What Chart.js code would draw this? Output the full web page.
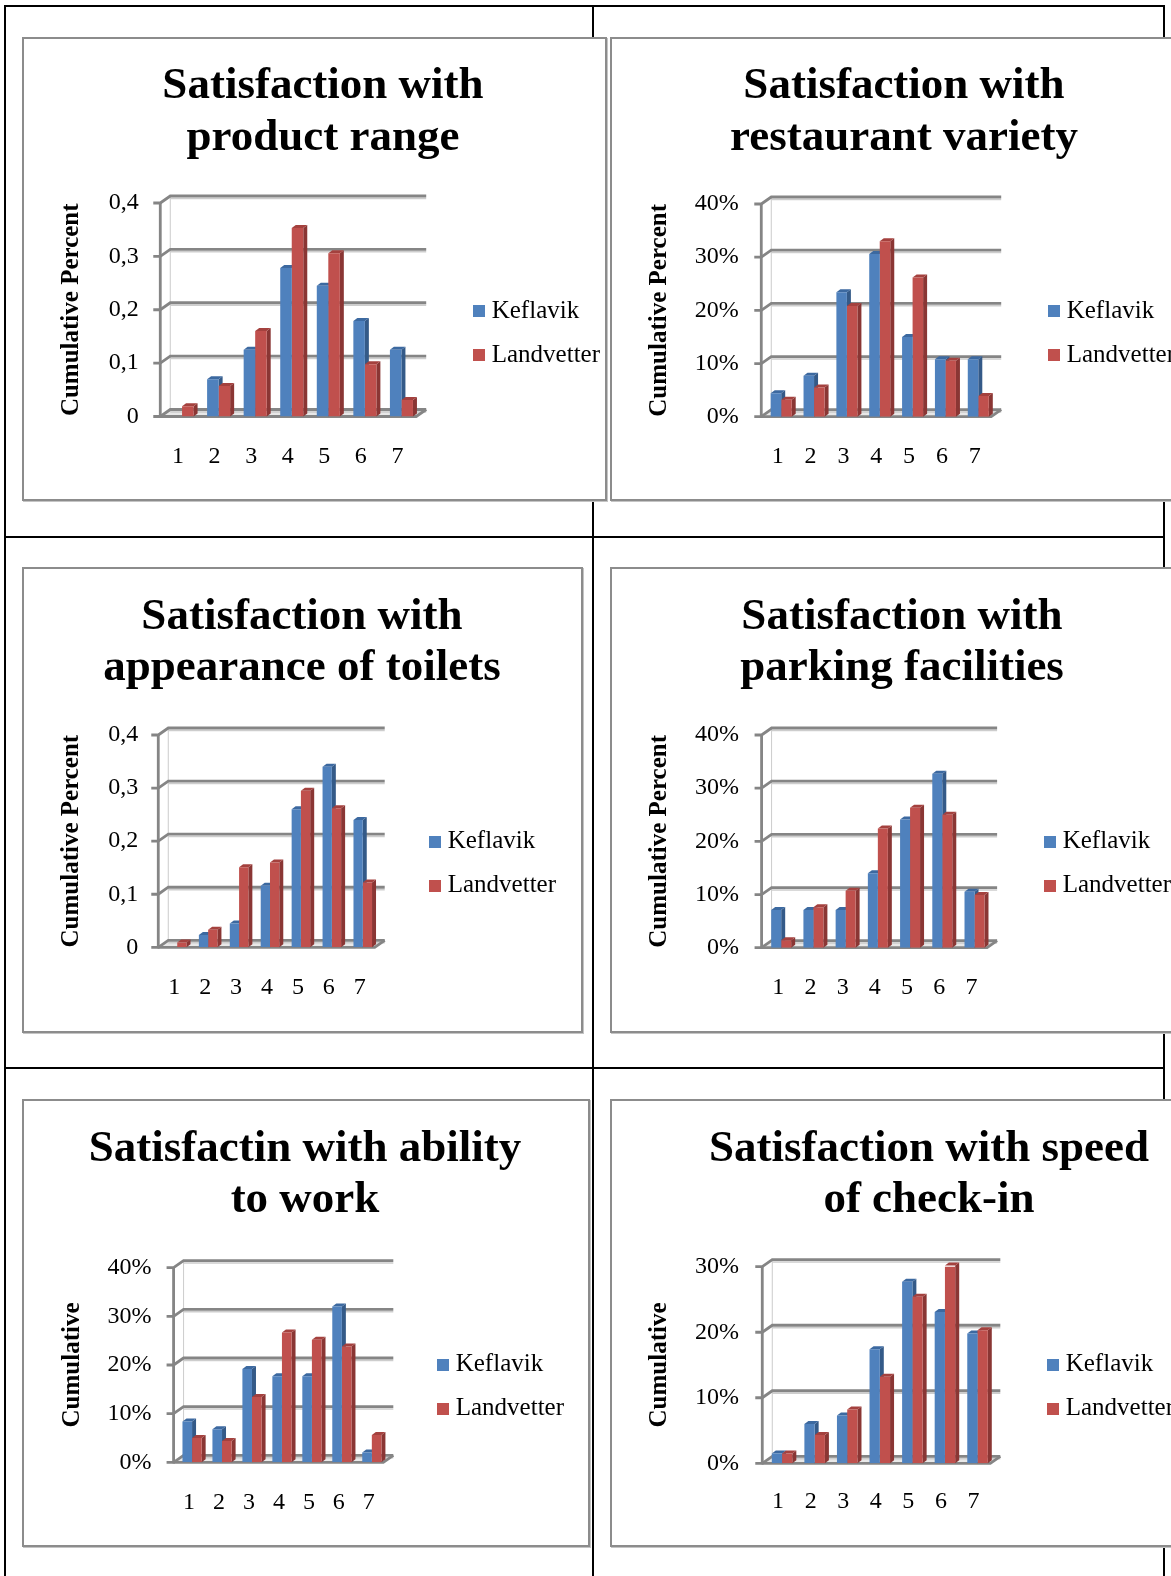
<!DOCTYPE html>
<html>
<head>
<meta charset="utf-8">
<script src="https://cdn.jsdelivr.net/npm/chart.js@4/dist/chart.umd.min.js"></script>
<style>
html, body { margin: 0; padding: 0; background: #fff; overflow: hidden; }
body { width: 1171px; height: 1576px; position: relative; }
.ln { position: absolute; background: #000; }
.frame { position: absolute; box-sizing: border-box; border: 2px solid #8c8c8c; background: #fff; box-shadow: 1px 1px 0 #c4c4c4; }
canvas { position: absolute; }
</style>
</head>
<body>
<!-- table grid -->
<div class="ln" style="left:4px;top:5px;width:1161px;height:2px"></div>
<div class="ln" style="left:4px;top:5px;width:2px;height:1571px"></div>
<div class="ln" style="left:592px;top:5px;width:2px;height:1571px"></div>
<div class="ln" style="left:1163px;top:5px;width:2px;height:1571px"></div>
<div class="ln" style="left:4px;top:536px;width:1161px;height:2px"></div>
<div class="ln" style="left:4px;top:1067px;width:1161px;height:2px"></div>

<div class="frame" style="left:22px;top:37px;width:585px;height:464px"></div>
<div class="frame" style="left:610px;top:37px;width:600px;height:464px"></div>
<div class="frame" style="left:22px;top:567px;width:561px;height:466px"></div>
<div class="frame" style="left:610px;top:567px;width:600px;height:466px"></div>
<div class="frame" style="left:22px;top:1099px;width:568px;height:448px"></div>
<div class="frame" style="left:610px;top:1099px;width:600px;height:448px"></div>

<script>
// data
const categories = ['1', '2', '3', '4', '5', '6', '7'];
const seriesNames = ['Keflavik', 'Landvetter'];
const decimalTicks = ['0', '0,1', '0,2', '0,3', '0,4'];
const percentTicks40 = ['0%', '10%', '20%', '30%', '40%'];
const percentTicks30 = ['0%', '10%', '20%', '30%'];

const productKeflavik = [0, 0.070, 0.125, 0.278, 0.245, 0.179, 0.125];
const productLandvetter = [0.019, 0.057, 0.160, 0.353, 0.306, 0.098, 0.031];
const restaurantKeflavik = [4.4, 7.7, 23.4, 30.6, 15.0, 10.8, 10.8];
const restaurantLandvetter = [3.2, 5.5, 20.8, 33.0, 26.2, 10.5, 3.9];
const toiletsKeflavik = [0, 0.023, 0.045, 0.116, 0.260, 0.340, 0.240];
const toiletsLandvetter = [0.009, 0.033, 0.151, 0.160, 0.295, 0.262, 0.122];
const parkingKeflavik = [7.1, 7.1, 7.1, 14.0, 24.1, 32.7, 10.5];
const parkingLandvetter = [1.4, 7.6, 10.7, 22.4, 26.3, 25.0, 9.9];
const workKeflavik = [8.4, 6.8, 19.2, 17.7, 17.7, 32.0, 2.0];
const workLandvetter = [5.0, 4.4, 13.4, 26.7, 25.2, 23.8, 5.6];
const checkinKeflavik = [1.5, 6.0, 7.3, 17.4, 27.7, 23.1, 19.8];
const checkinLandvetter = [1.5, 4.3, 8.2, 13.2, 25.4, 30.2, 20.3];

const charts = [
  { title: ['Satisfaction with', 'product range'], yTitle: 'Cumulative Percent',
    kef: productKeflavik, land: productLandvetter, ticks: decimalTicks, max: 0.4, step: 0.1 },
  { title: ['Satisfaction with', 'restaurant variety'], yTitle: 'Cumulative Percent',
    kef: restaurantKeflavik, land: restaurantLandvetter, ticks: percentTicks40, max: 40, step: 10 },
  { title: ['Satisfaction with', 'appearance of toilets'], yTitle: 'Cumulative Percent',
    kef: toiletsKeflavik, land: toiletsLandvetter, ticks: decimalTicks, max: 0.4, step: 0.1 },
  { title: ['Satisfaction with', 'parking facilities'], yTitle: 'Cumulative Percent',
    kef: parkingKeflavik, land: parkingLandvetter, ticks: percentTicks40, max: 40, step: 10 },
  { title: ['Satisfactin with ability', 'to work'], yTitle: 'Cumulative',
    kef: workKeflavik, land: workLandvetter, ticks: percentTicks40, max: 40, step: 10 },
  { title: ['Satisfaction with speed', 'of check-in'], yTitle: 'Cumulative',
    kef: checkinKeflavik, land: checkinLandvetter, ticks: percentTicks30, max: 30, step: 10 }
];

// where each plot sits on the page (front plane of the 3d box)
const layouts = [
  { frameY: 37, L: 164, R: 419.5, top: 203, y0: 416.5, titleX: 323, titleY: 86.5, boxX: 473, legendY: 333, yTitleX: 72, tickRight: 139, xLabelY: 457, labelOffset: -4, cat: 0.63 },
  { frameY: 37, L: 765, R: 994.5, top: 204, y0: 416.7, titleX: 904, titleY: 86.5, boxX: 1048, legendY: 333, yTitleX: 660, tickRight: 739, xLabelY: 457, labelOffset: -3.5, cat: 0.64 },
  { frameY: 567, L: 162, R: 378, top: 735, y0: 947.3, titleX: 302, titleY: 617, boxX: 429, legendY: 863.5, yTitleX: 72, tickRight: 138.5, xLabelY: 988, labelOffset: -3, cat: 0.6 },
  { frameY: 567, L: 765.5, R: 991.4, top: 735, y0: 947.7, titleX: 902.6, titleY: 617, boxX: 1045, legendY: 863.5, yTitleX: 660, tickRight: 739.3, xLabelY: 988, labelOffset: -3, cat: 0.62 },
  { frameY: 1099, L: 177.3, R: 386.6, top: 1267.7, y0: 1462.3, titleX: 305, titleY: 1149, boxX: 437, legendY: 1386.5, yTitleX: 72.5, tickRight: 151.7, xLabelY: 1502.5, labelOffset: -3, cat: 0.64 },
  { frameY: 1099, L: 766.2, R: 994.6, top: 1266.7, y0: 1463.3, titleX: 929.6, titleY: 1149, boxX: 1048, legendY: 1386.5, yTitleX: 660, tickRight: 739.3, xLabelY: 1502, labelOffset: -4, cat: 0.63 }
];

const FONT = "'Liberation Serif', 'Times New Roman', serif";
const colors = ['#4f81bd', '#c0504d'];
const sideColors = ['#345a88', '#8a3634'];
const topColors = ['#3c69a0', '#a4413e'];
const LEGEND_SIZE = 25, LEGEND_PAD = 19;

// small square markers for the legend (text sits close to them, like Excel)
const markers = colors.map(col => {
  const m = document.createElement('canvas');
  m.width = 12; m.height = 12;
  const mc = m.getContext('2d');
  mc.fillStyle = col; mc.fillRect(0, 0, 12, 12);
  return m;
});

// Excel-like 3d walls, floor and bar sides
const wall3d = {
  id: 'wall3d',
  beforeDatasetsDraw(chart, args, o) {
    const ctx = chart.ctx, a = chart.chartArea, y = chart.scales.y;
    const fx = a.left + o.front, fr = a.right + o.front;
    const dx = o.dx, dy = o.dy;
    const y0 = y.getPixelForValue(0), yMax = y.getPixelForValue(y.max);
    ctx.save();
    ctx.fillStyle = '#e8e8e8';
    ctx.beginPath();
    ctx.moveTo(fx, y0); ctx.lineTo(fr, y0); ctx.lineTo(fr + dx, y0 - dy); ctx.lineTo(fx + dx, y0 - dy);
    ctx.closePath(); ctx.fill();

    ctx.strokeStyle = '#cccccc'; ctx.lineWidth = 1;
    ctx.beginPath(); ctx.moveTo(fx + dx, y0 - dy); ctx.lineTo(fx + dx, yMax - dy); ctx.stroke();

    y.ticks.forEach(t => {
      const py = y.getPixelForValue(t.value);
      ctx.strokeStyle = '#cdcdcd'; ctx.lineWidth = 1.5;
      ctx.beginPath(); ctx.moveTo(fx + dx, py - dy + 2.4); ctx.lineTo(fr + dx, py - dy + 2.4); ctx.stroke();
      ctx.strokeStyle = '#858585'; ctx.lineWidth = 2.8;
      ctx.beginPath();
      ctx.moveTo(fx - 7, py); ctx.lineTo(fx, py); ctx.lineTo(fx + dx, py - dy); ctx.lineTo(fr + dx, py - dy);
      ctx.stroke();
    });
    ctx.beginPath(); ctx.moveTo(fx, y0); ctx.lineTo(fr, y0); ctx.lineTo(fr + dx, y0 - dy); ctx.stroke();
    ctx.beginPath(); ctx.moveTo(fx, y0 + 1); ctx.lineTo(fx, yMax); ctx.stroke();

    const d = 4, e = 3;
    chart.data.datasets.forEach((ds, di) => {
      chart.getDatasetMeta(di).data.forEach(bar => {
        const p = bar.getProps(['x', 'y', 'base', 'width'], true);
        if (p.base - p.y < 0.5) return;
        const xl = p.x - p.width / 2, xr = p.x + p.width / 2;
        ctx.fillStyle = sideColors[di];
        ctx.beginPath();
        ctx.moveTo(xr, p.y); ctx.lineTo(xr + d, p.y - e); ctx.lineTo(xr + d, p.base - e); ctx.lineTo(xr, p.base);
        ctx.closePath(); ctx.fill();
        ctx.fillStyle = topColors[di];
        ctx.beginPath();
        ctx.moveTo(xl, p.y); ctx.lineTo(xl + d, p.y - e); ctx.lineTo(xr + d, p.y - e); ctx.lineTo(xr, p.y);
        ctx.closePath(); ctx.fill();
      });
    });
    ctx.restore();
  }
};

const mctx = document.createElement('canvas').getContext('2d');
mctx.font = LEGEND_SIZE + 'px ' + FONT;
const legendTextW = Math.max(...seriesNames.map(s => mctx.measureText(s).width));

const padL = 30, lineH = 51.5;

charts.forEach((c, i) => {
  const g = layouts[i];
  const legendLeft = g.boxX + 6 - LEGEND_PAD;
  const legendRight = legendLeft + LEGEND_PAD + LEGEND_SIZE / 2 + legendTextW + 10;
  const canvasX = 2 * g.titleX - legendRight - padL;
  const W = legendRight - canvasX;
  const canvasY = g.frameY + 2;
  const H = 2 * (g.legendY - canvasY);
  const yW = g.L - (canvasX + padL);
  const gapW = legendLeft - g.R;
  const titleTop = g.titleY - lineH / 2 - canvasY;
  const titleBottom = g.top - canvasY - titleTop - 2 * lineH;
  const xH = canvasY + H - g.y0;

  const cv = document.createElement('canvas');
  cv.width = Math.round(W); cv.height = Math.round(H);
  cv.style.left = canvasX + 'px'; cv.style.top = canvasY + 'px';
  cv.style.width = Math.round(W) + 'px'; cv.style.height = Math.round(H) + 'px';
  document.body.appendChild(cv);

  new Chart(cv.getContext('2d'), {
    type: 'bar',
    data: {
      labels: categories,
      datasets: [
        { label: seriesNames[0], data: c.kef, backgroundColor: colors[0], yAxisID: 'y' },
        { label: seriesNames[1], data: c.land, backgroundColor: colors[1], yAxisID: 'y' }
      ]
    },
    options: {
      responsive: false,
      animation: false,
      events: [],
      devicePixelRatio: 1,
      layout: { padding: { left: padL, right: 0, top: 0, bottom: 0 } },
      datasets: { bar: { categoryPercentage: g.cat, barPercentage: 1, borderWidth: 0 } },
      plugins: {
        title: {
          display: true, text: c.title, color: '#000',
          font: { family: FONT, size: 45, weight: 'bold', lineHeight: lineH / 45 },
          padding: { top: titleTop, bottom: titleBottom }
        },
        legend: {
          position: 'right',
          maxWidth: 400,
          labels: {
            usePointStyle: true, boxWidth: 0.01, boxHeight: LEGEND_SIZE, padding: LEGEND_PAD, color: '#000',
            font: { family: FONT, size: LEGEND_SIZE },
            generateLabels: chart => Chart.defaults.plugins.legend.labels.generateLabels(chart)
              .map((item, k) => Object.assign(item, { pointStyle: markers[k] }))
          }
        },
        tooltip: { enabled: false },
        wall3d: { front: -3.5, dx: 10, dy: 7 }
      },
      scales: {
        x: {
          grid: { display: false, drawTicks: false },
          border: { display: false },
          ticks: { color: '#000', font: { family: FONT, size: 24 }, padding: g.xLabelY - g.y0 - 14.4, labelOffset: g.labelOffset, maxRotation: 0 },
          afterFit: s => { s.height = xH; }
        },
        y: {
          min: 0, max: c.max,
          grid: { display: false, drawTicks: false },
          border: { display: false },
          ticks: { stepSize: c.step, color: '#000', font: { family: FONT, size: 24 }, padding: g.L - g.tickRight,
                   callback: (v, idx) => c.ticks[idx] },
          title: { display: true, text: c.yTitle, color: '#000',
                   font: { family: FONT, size: 25, weight: 'bold' },
                   padding: { top: g.yTitleX - 15 - (canvasX + padL), bottom: 0 } },
          afterFit: s => { s.width = yW; }
        },
        gap: {
          type: 'linear', position: 'right', display: true,
          grid: { display: false, drawTicks: false },
          border: { display: false },
          ticks: { display: false },
          afterFit: s => { s.width = gapW; }
        }
      }
    },
    plugins: [wall3d]
  });
});
</script>
</body>
</html>
